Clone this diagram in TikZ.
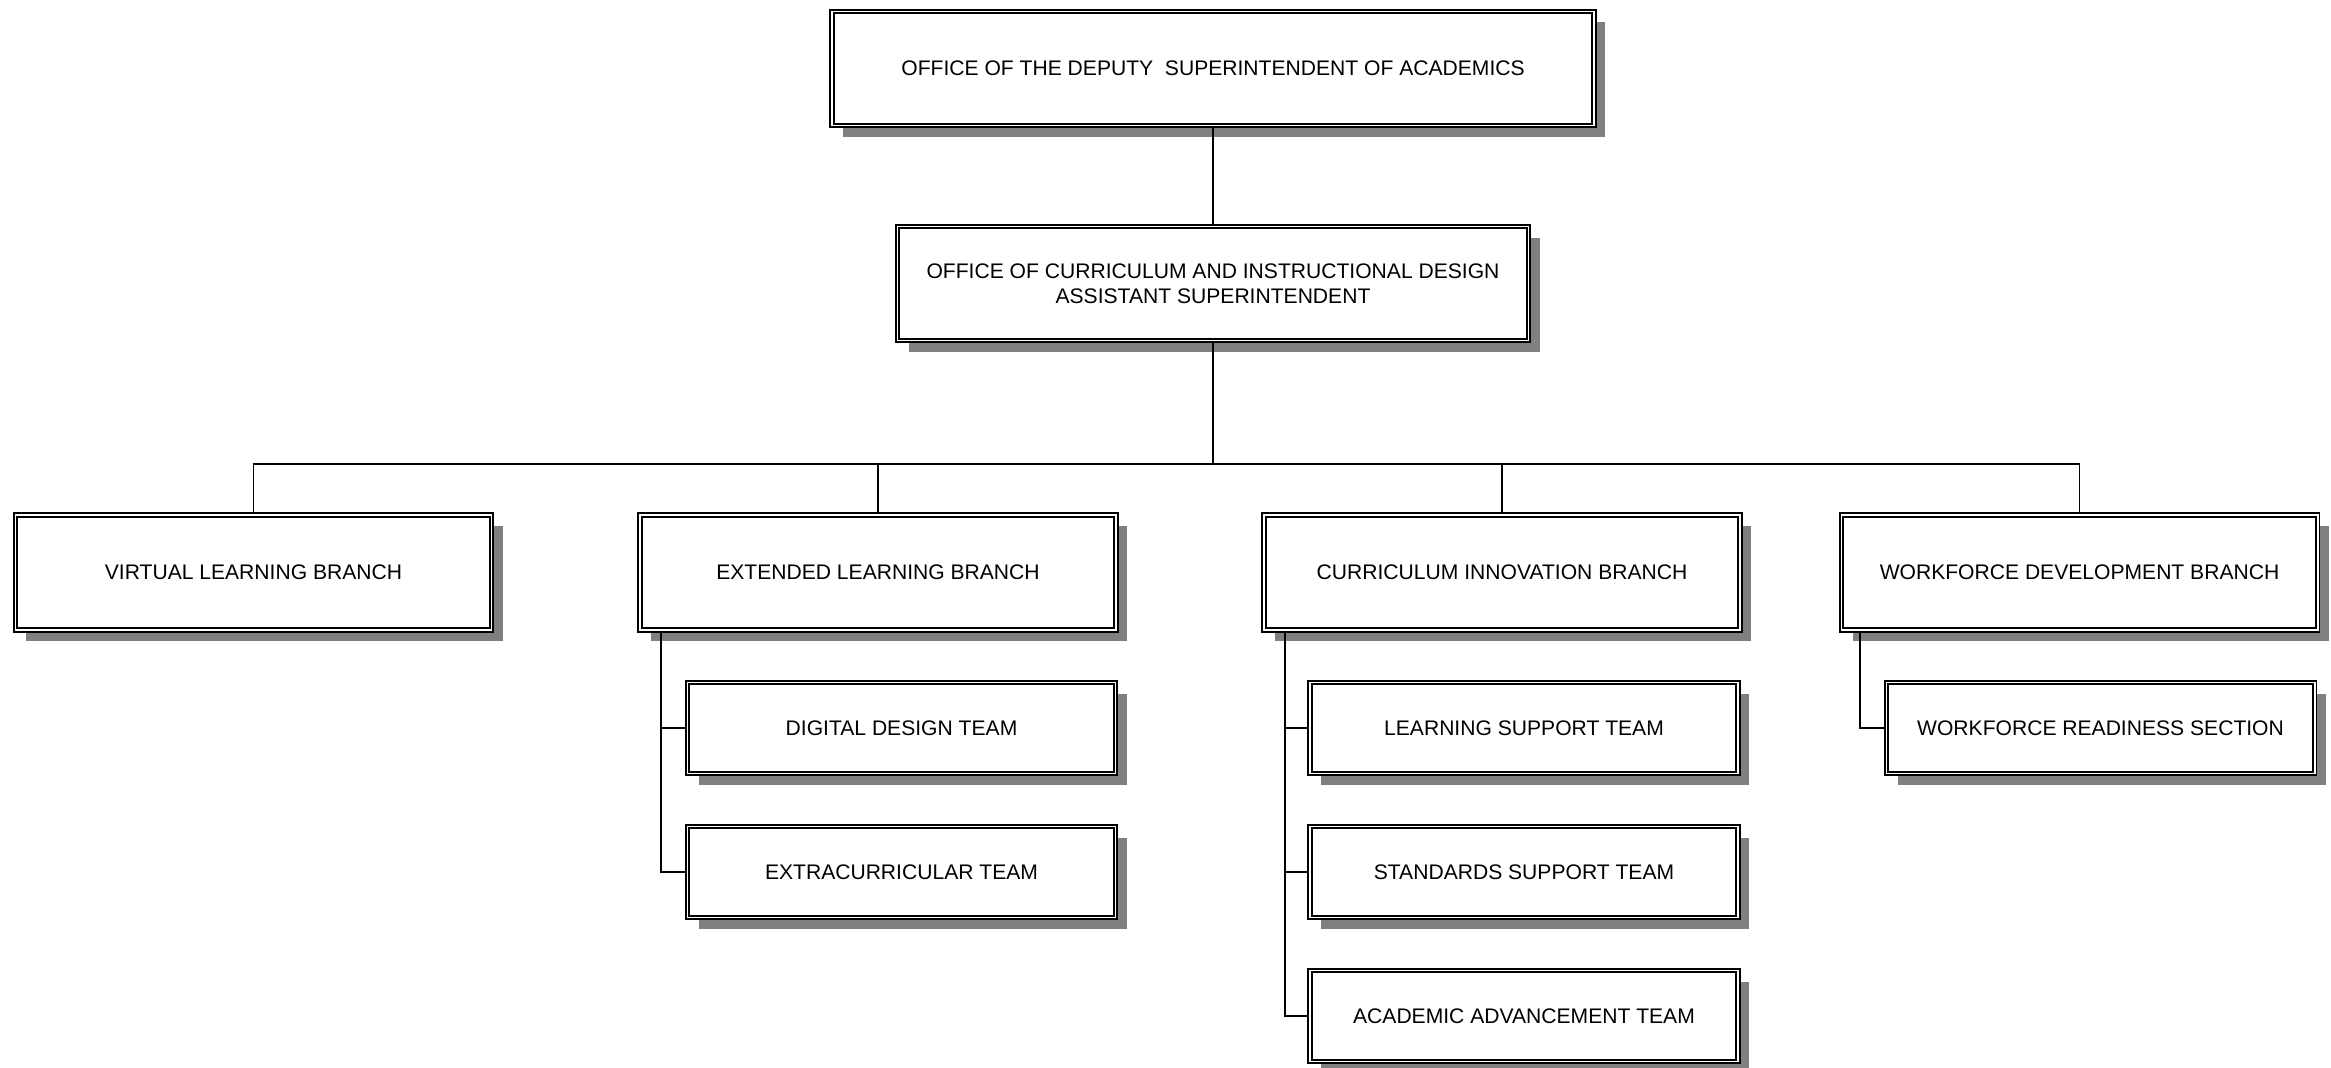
\documentclass[tikz,border=0pt]{standalone}
\usepackage{fontspec}
\setmainfont{Liberation Sans}
\usetikzlibrary{shadows, positioning}

\begin{document}
\begin{tikzpicture}[x=0.2mm, y=-0.2mm, font=\fontsize{12}{14.5}\selectfont,
    unit/.style={draw, line width=0.95pt, double=white, double distance=1.1pt, fill=white,
        inner sep=0pt, align=center,
        drop shadow={shadow xshift=2.2mm, shadow yshift=-2.2mm, fill=black!50, opacity=1}},
    office/.style={unit, minimum height=22.8mm},
    branch/.style={unit, minimum width=95.2mm, minimum height=23mm},
    team/.style={unit, minimum width=85.6mm, minimum height=18.2mm},
    link/.style={line width=1.1pt}]
    \useasboundingbox (0,0) rectangle (2331,1068);

    \node[office, minimum width=152.4mm] (dsa) at (1213,68.5) {OFFICE OF THE DEPUTY\ \ SUPERINTENDENT OF ACADEMICS};
    \node[office, minimum width=126.2mm] (cid) at (1213,283.5) {OFFICE OF CURRICULUM AND INSTRUCTIONAL DESIGN\\ASSISTANT SUPERINTENDENT};

    \node[branch] (vlb) at (253.5,572.5) {VIRTUAL LEARNING BRANCH};
    \node[branch] (elb) at (878,572.5) {EXTENDED LEARNING BRANCH};
    \node[branch] (cib) at (1502,572.5) {CURRICULUM INNOVATION BRANCH};
    \node[branch] (wdb) at (2079.5,572.5) {WORKFORCE DEVELOPMENT BRANCH};

    \node[team] (ddt) at (901.5,728) {DIGITAL DESIGN TEAM};
    \node[team] (ect) at (901.5,872) {EXTRACURRICULAR TEAM};
    \node[team] (lst) at (1524,728) {LEARNING SUPPORT TEAM};
    \node[team] (sst) at (1524,872) {STANDARDS SUPPORT TEAM};
    \node[team] (aat) at (1524,1016) {ACADEMIC ADVANCEMENT TEAM};
    \node[team] (wrs) at (2100.5,728) {WORKFORCE READINESS SECTION};

    \coordinate (bus) at (1213,464);
    \draw[link] (dsa.south) -- (cid.north);
    \draw[link] (cid.south) -- (bus);
    \foreach \b in {vlb,elb,cib,wdb}
        \draw[link] (\b.north) |- (bus);

    \coordinate (elbtrunk) at ([xshift=4.3mm]elb.south west);
    \coordinate (cibtrunk) at ([xshift=4.3mm]cib.south west);
    \coordinate (wdbtrunk) at ([xshift=3.8mm]wdb.south west);
    \draw[link] (elbtrunk) |- (ddt.west);
    \draw[link] (elbtrunk) |- (ect.west);
    \draw[link] (cibtrunk) |- (lst.west);
    \draw[link] (cibtrunk) |- (sst.west);
    \draw[link] (cibtrunk) |- (aat.west);
    \draw[link] (wdbtrunk) |- (wrs.west);
\end{tikzpicture}
\end{document}
